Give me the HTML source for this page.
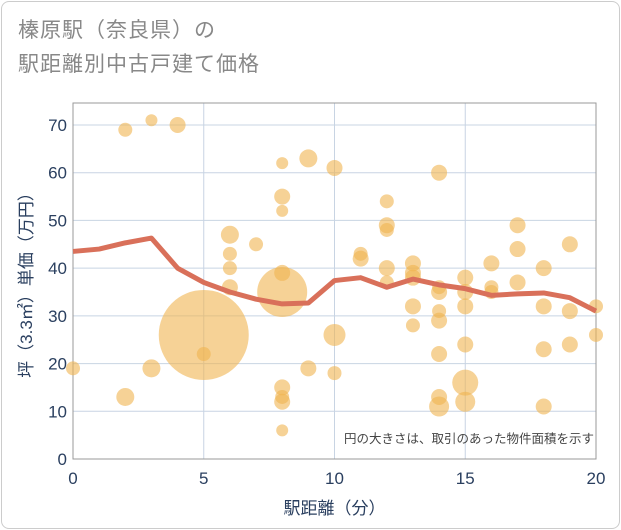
<!DOCTYPE html>
<html><head><meta charset="utf-8"><style>
body{margin:0;background:#fff;font-family:"Liberation Sans","Noto Sans CJK JP",sans-serif}
#card{position:absolute;left:1px;top:1px;width:617px;height:526px;border:1px solid #ccc;border-radius:8px}
#title{position:absolute;left:18px;top:14px;font-size:21px;line-height:34px;color:#888;letter-spacing:1px}
</style></head><body>
<div id="card"></div>
<div id="title">榛原駅（奈良県）の<br>駅距離別中古戸建て価格</div>
<svg id="chart" width="621" height="530" style="position:absolute;left:0;top:0"></svg>
<script>
const xTicks=[0,5,10,15,20];
const yTicks=[0,10,20,30,40,50,60,70];
const bx=[0,2,2,3,3,4,5,5,6,6,6,6,7,8,8,8,8,8,8,8,8,8,9,9,10,10,10,11,11,12,12,12,12,12,13,13,13,13,13,14,14,14,14,14,14,14,14,15,15,15,15,15,15,16,16,16,17,17,17,18,18,18,18,19,19,19,20,20];
const by=[19,69,13,71,19,70,26,22,47,43,40,36,45,62,55,52,39,35,15,13,12,6,63,19,61,26,18,43,42,54,49,48,40,37,41,39,38,32,28,60,36,35,31,29,22,13,11,38,35,32,24,16,12,41,36,35,49,44,37,40,32,23,11,45,31,24,32,26];
const bsize=[7,7,9,6,9,8,45,7,9,7,7,8,7,6,8,6,8,25,8,7,8,6,9,8,8,11,7,7,8,7,8,7,8,7,8,8,8,8,7,8,7,8,7,8,8,8,10,8,8,8,8,13,10,8,7,7,8,8,8,8,8,8,8,8,8,8,7,7];
const lineX=[0,1,2,3,4,5,6,7,8,9,10,11,12,13,14,15,16,17,18,19,20];
const lineY=[43.5,44,45.3,46.3,40,37,35,33.5,32.5,32.7,37.4,38,36,37.7,36.5,35.7,34.3,34.6,34.8,33.8,31];
const L=73,R=596,T=103,B=459;
const sx=v=>L+(R-L)*v/20, sy=v=>B-(B-125)*v/70;
const svg=document.getElementById('chart');const NS='http://www.w3.org/2000/svg';
function mk(t,a,p){const e=document.createElementNS(NS,t);for(const k in a)e.setAttribute(k,a[k]);(p||svg).appendChild(e);return e;}
yTicks.forEach(v=>{const g=mk('line',{x1:L,x2:R,y1:sy(v),y2:sy(v),stroke:'#c8d4e3','stroke-width':1});

const t=mk('text',{x:L-6,y:sy(v)+6,'text-anchor':'end','font-size':17,fill:'#2a3f5f'});t.textContent=v;
});
xTicks.forEach(v=>{const g=mk('line',{x1:sx(v),x2:sx(v),y1:T,y2:B,stroke:'#c8d4e3','stroke-width':1});

const t=mk('text',{x:sx(v),y:B+25,'text-anchor':'middle','font-size':17,fill:'#2a3f5f'});t.textContent=v;
});
const fr=mk('rect',{x:L,y:T,width:R-L,height:B-T,fill:'none',stroke:'#999','stroke-width':1});

bx.forEach((v,i)=>{const c=mk('circle',{cx:sx(v),cy:sy(by[i]),r:bsize[i],fill:'#f0b450','fill-opacity':0.6});
});
const pl=mk('polyline',{points:lineX.map((v,i)=>sx(v)+','+sy(lineY[i])).join(' '),fill:'none',stroke:'#d9705a','stroke-width':5,'stroke-linejoin':'round'});

const n=mk('text',{x:R-2,y:443,'text-anchor':'end','font-size':12.5,fill:'#444'});n.textContent='円の大きさは、取引のあった物件面積を示す';

const xt=mk('text',{x:(L+R)/2,y:514,'text-anchor':'middle','font-size':17,fill:'#2a3f5f'});xt.textContent='駅距離（分）';

const yt=mk('text',{x:0,y:0,'text-anchor':'middle','font-size':17,fill:'#2a3f5f',transform:'translate(32,'+((T+B)/2)+') rotate(-90)'});yt.textContent='坪（3.3㎡）単価（万円）';

</script>
</body></html>
